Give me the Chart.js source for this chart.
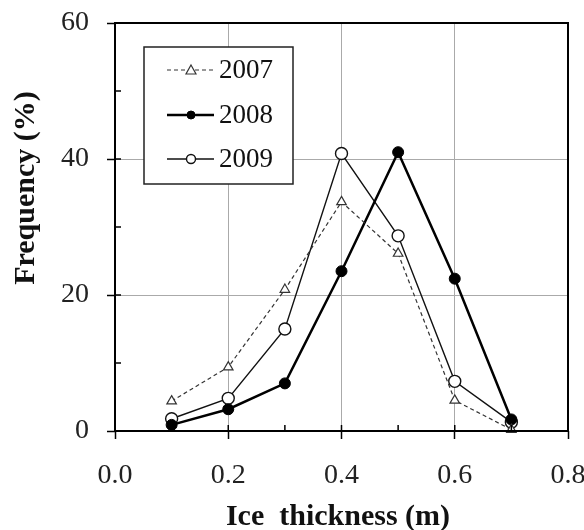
<!DOCTYPE html>
<html>
<head>
<meta charset="utf-8">
<script src="https://cdn.jsdelivr.net/npm/chart.js@4.4.1/dist/chart.umd.min.js"></script>
<style>
  html, body { margin: 0; padding: 0; background: #fff; }
  #wrap { width: 584px; height: 530px; }
</style>
</head>
<body>
<div id="wrap"><canvas id="myChart" width="584" height="530"></canvas></div>
<script>
// data
const thickness = [0.1, 0.2, 0.3, 0.4, 0.5, 0.6, 0.7];
const freq2007 = [4.4, 9.4, 20.8, 33.7, 26.1, 4.5, 0.2];
const freq2008 = [0.9, 3.2, 7.0, 23.5, 41.0, 22.4, 1.7];
const freq2009 = [1.8, 4.8, 15.0, 40.8, 28.7, 7.3, 1.3];
const yearLabels = ['2007', '2008', '2009'];
const xTicks = [0.0, 0.2, 0.4, 0.6, 0.8];
const yTicks = [0, 20, 40, 60];
const xMinor = [0.1, 0.3, 0.5, 0.7];
const yMinor = [10, 30, 50];

const serif = '"Liberation Serif", "Times New Roman", serif';

function pts(arr) {
    return thickness.map((t, i) => ({ x: t, y: arr[i] }));
}

var data = {
    datasets: [{
        label: yearLabels[0],
        data: pts(freq2007),
        borderColor: '#333',
        borderWidth: 1.2,
        borderDash: [4, 3],
        pointStyle: 'triangle',
        pointRadius: 5.5,
        pointBorderWidth: 1.2,
        pointBackgroundColor: '#fff',
        pointBorderColor: '#333',
        clip: false
    }, {
        label: yearLabels[1],
        data: pts(freq2008),
        borderColor: '#000',
        borderWidth: 2.5,
        pointStyle: 'circle',
        pointRadius: 5.5,
        pointBorderWidth: 1,
        pointBackgroundColor: '#000',
        pointBorderColor: '#000',
        clip: false
    }, {
        label: yearLabels[2],
        data: pts(freq2009),
        borderColor: '#111',
        borderWidth: 1.4,
        pointStyle: 'circle',
        pointRadius: 6,
        pointBorderWidth: 1.4,
        pointBackgroundColor: '#fff',
        pointBorderColor: '#111',
        clip: false
    }]
};

// box, inner ticks, titles, legend
const decor = {
    id: 'decor',
    afterDatasetsDraw(chart) {
        const c = chart.ctx;
        const a = chart.chartArea;
        const xs = chart.scales.x, ys = chart.scales.y;
        c.save();
        c.strokeStyle = '#000';
        c.lineWidth = 1.5;
        c.beginPath();
        xTicks.forEach(v => { const p = xs.getPixelForValue(v); c.moveTo(p, a.bottom); c.lineTo(p, a.bottom - 6); });
        xMinor.forEach(v => { const p = xs.getPixelForValue(v); c.moveTo(p, a.bottom); c.lineTo(p, a.bottom - 6); });
        yTicks.forEach(v => { const p = ys.getPixelForValue(v); c.moveTo(a.left, p); c.lineTo(a.left + 6, p); });
        yMinor.forEach(v => { const p = ys.getPixelForValue(v); c.moveTo(a.left, p); c.lineTo(a.left + 6, p); });
        c.stroke();

        c.lineWidth = 2;
        c.strokeRect(a.left, a.top, a.right - a.left, a.bottom - a.top);

        // axis titles
        c.fillStyle = '#111';
        c.font = 'bold 30px ' + serif;
        c.textAlign = 'center';
        c.textBaseline = 'middle';
        c.fillText('Ice  thickness (m)', 338, 517);
        c.save();
        c.translate(26, 188);
        c.rotate(-Math.PI / 2);
        c.fillText('Frequency (%)', 0, 0);
        c.restore();

        // legend box
        const bx = 144, by = 47, bw = 149, bh = 137;
        c.fillStyle = '#fff';
        c.fillRect(bx, by, bw, bh);
        c.lineWidth = 1.5;
        c.strokeStyle = '#222';
        c.strokeRect(bx, by, bw, bh);
        const rows = [70, 115, 159];
        chart.data.datasets.forEach((ds, i) => {
            const y = rows[i];
            c.strokeStyle = ds.borderColor;
            c.lineWidth = ds.borderWidth;
            c.setLineDash(ds.borderDash || []);
            c.beginPath();
            c.moveTo(167, y);
            c.lineTo(214, y);
            c.stroke();
            c.setLineDash([]);
            c.lineWidth = ds.pointBorderWidth;
            c.strokeStyle = ds.pointBorderColor;
            c.fillStyle = ds.pointBackgroundColor;
            c.beginPath();
            if (ds.pointStyle === 'triangle') {
                c.moveTo(191, y - 5);
                c.lineTo(196, y + 4);
                c.lineTo(186, y + 4);
                c.closePath();
            } else {
                c.arc(191, y, ds.pointRadius - 1.5, 0, Math.PI * 2);
            }
            c.fill();
            c.stroke();
            c.fillStyle = '#111';
            c.font = '27px ' + serif;
            c.textAlign = 'left';
            c.fillText(ds.label, 219, y + 1);
        });
        c.restore();
    }
};

var options = {
    responsive: false,
    animation: false,
    layout: { padding: { top: 23, right: 16, left: 0, bottom: 0 } },
    plugins: { legend: { display: false }, tooltip: { enabled: false } },
    scales: {
        x: {
            type: 'linear',
            min: 0,
            max: 0.8,
            afterFit: s => { s.height = 99; s.paddingLeft = 0; s.paddingRight = 0; },
            afterBuildTicks: s => { s.ticks = xTicks.map(v => ({ value: v })); },
            grid: { color: '#aaa', lineWidth: 1, tickColor: '#000', tickLength: 8, tickWidth: 1.5 },
            border: { display: false },
            ticks: {
                color: '#222',
                padding: 20,
                maxRotation: 0,
                font: { family: serif, size: 28 },
                callback: v => v.toFixed(1)
            }
        },
        y: {
            min: 0,
            max: 60,
            afterFit: s => { s.width = 115; s.paddingTop = 0; s.paddingBottom = 0; },
            afterBuildTicks: s => { s.ticks = yTicks.map(v => ({ value: v })); },
            grid: { color: '#aaa', lineWidth: 1, tickColor: '#000', tickLength: 8, tickWidth: 1.5 },
            border: { display: false },
            ticks: {
                color: '#222',
                padding: 18,
                font: { family: serif, size: 28 }
            }
        }
    }
};

const config = {
    type: 'line',
    data,
    options,
    plugins: [decor]
};

var ctx = document.getElementById('myChart').getContext('2d');
var myChart = new Chart(ctx, config);
</script>
</body>
</html>
